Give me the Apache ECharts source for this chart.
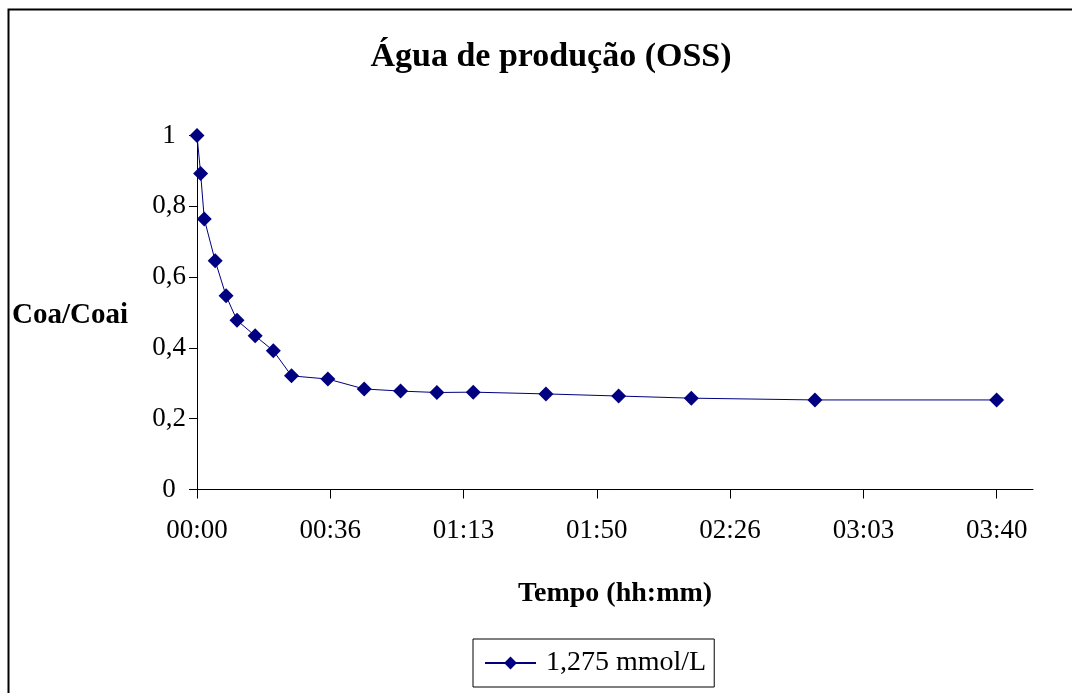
<!DOCTYPE html>
<html>
<head>
<meta charset="utf-8">
<title>Água de produção (OSS)</title>
<script src="https://cdn.jsdelivr.net/npm/echarts@6/dist/echarts.min.js"></script>
<style>
  html, body { margin: 0; padding: 0; background: #fff; }
  #chart { width: 1072px; height: 693px; }
</style>
</head>
<body>
<div id="chart"></div>
<script>
// Elapsed time in minutes and the normalised concentration Coa/Coai
const timeMinutes = [0, 1, 2, 5, 8, 11, 16, 21, 26, 36, 46, 56, 66, 76, 96, 116, 136, 170, 220];
const ratio = [1.0, 0.893, 0.764, 0.646, 0.547, 0.478, 0.434, 0.392, 0.321, 0.312, 0.284, 0.278,
               0.274, 0.275, 0.270, 0.264, 0.258, 0.253, 0.253];
const seriesName = '1,275 mmol/L';

// Time axis ticks (minutes), one sixth of 3h40 apart
const xTicks = [0, 220 / 6, 440 / 6, 110, 880 / 6, 1100 / 6, 220];

const FONT = '"Liberation Serif", "Times New Roman", serif';

function toHHMM(minutes) {
  const total = Math.floor(minutes + 1e-6);
  const h = Math.floor(total / 60);
  const m = total % 60;
  return String(h).padStart(2, '0') + ':' + String(m).padStart(2, '0');
}

const chart = echarts.init(document.getElementById('chart'), null, { renderer: 'canvas' });

chart.setOption({
  backgroundColor: '#fff',
  animation: false,
  grid: { left: 197, right: 39, top: 135.5, bottom: 203.5, containLabel: false },
  graphic: [
    {
      type: 'rect',
      shape: { x: 8.5, y: 9.5, width: 1200, height: 1000 },
      style: { fill: null, stroke: '#000', lineWidth: 2 },
      silent: true
    },
    {
      type: 'text',
      x: 551, y: 57,
      style: {
        text: 'Água de produção (OSS)',
        font: 'bold 34px ' + FONT,
        fill: '#000',
        align: 'center',
        verticalAlign: 'middle'
      }
    },
    {
      type: 'text',
      x: 12, y: 316,
      style: {
        text: 'Coa/Coai',
        font: 'bold 29px ' + FONT,
        fill: '#000',
        align: 'left',
        verticalAlign: 'middle'
      }
    }
  ],
  legend: {
    left: 473,
    top: 639,
    data: [seriesName],
    orient: 'horizontal',
    borderColor: '#000',
    borderWidth: 1,
    borderRadius: 0,
    padding: [9, 8, 9, 11],
    itemWidth: 51,
    itemHeight: 16,
    itemGap: 5,
    textStyle: { fontFamily: FONT, fontSize: 28, color: '#000', lineHeight: 30, padding: [0, 0, 0, 5] }
  },
  xAxis: {
    type: 'value',
    min: 0,
    max: 230,
    name: 'Tempo (hh:mm)',
    nameLocation: 'middle',
    nameGap: 90,
    nameTextStyle: { fontFamily: FONT, fontSize: 28, fontWeight: 'bold', color: '#000' },
    axisLine: { show: true, onZero: false, lineStyle: { color: '#000', width: 1 } },
    axisTick: { show: true, inside: false, length: 9, customValues: xTicks, lineStyle: { color: '#000' } },
    axisLabel: {
      customValues: xTicks,
      formatter: v => toHHMM(v),
      margin: 28,
      fontFamily: FONT,
      fontSize: 27,
      color: '#000'
    },
    splitLine: { show: false }
  },
  yAxis: {
    type: 'value',
    min: 0,
    max: 1,
    interval: 0.2,
    axisLine: { show: true, lineStyle: { color: '#000', width: 1 } },
    axisTick: { show: true, inside: false, length: 8, lineStyle: { color: '#000' } },
    axisLabel: {
      formatter: v => String(Math.round(v * 10) / 10).replace('.', ','),
      margin: 28,
      align: 'center',
      fontFamily: FONT,
      fontSize: 27,
      color: '#000'
    },
    splitLine: { show: false }
  },
  series: [
    {
      name: seriesName,
      type: 'line',
      data: timeMinutes.map((t, i) => [t, ratio[i]]),
      symbol: 'diamond',
      symbolSize: 15,
      showAllSymbol: true,
      lineStyle: { color: '#000080', width: 1 },
      itemStyle: { color: '#000080' }
    }
  ]
});
</script>
</body>
</html>
